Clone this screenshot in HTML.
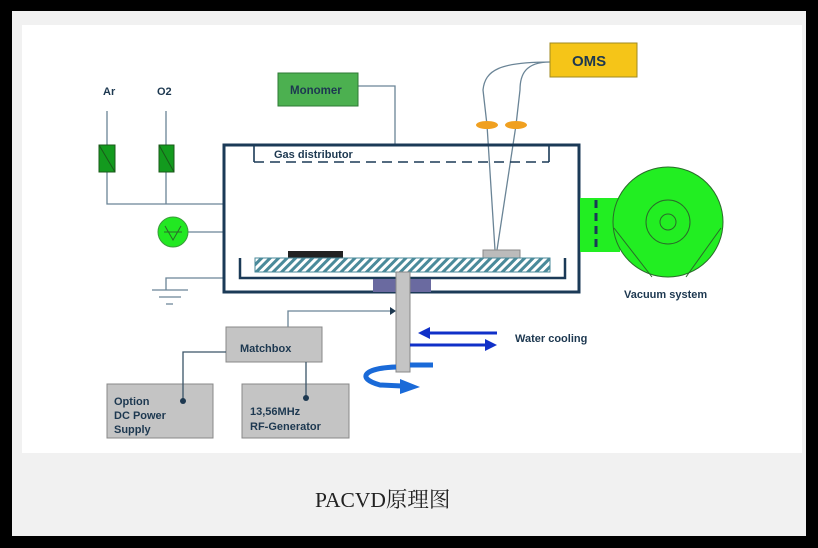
<!DOCTYPE html>
<html><head><meta charset="utf-8"><style>
html,body{margin:0;padding:0;background:#000;width:818px;height:548px;overflow:hidden}
#g{position:absolute;left:12px;top:11px;width:794px;height:525px;background:#f1f1f1}
#w{position:absolute;left:22px;top:25px;width:780px;height:428px;background:#fff}
#cap{position:absolute;left:315px;top:483px;font:21.5px "Liberation Serif","Noto Serif CJK SC",serif;color:#222}
svg{position:absolute;left:0;top:0}
text{font-family:"Liberation Sans",sans-serif;font-weight:bold;fill:#1d3850}
</style></head><body>
<div id="g"></div><div id="w"></div>
<div id="cap">PACVD原理图</div>
<svg width="818" height="548" viewBox="0 0 818 548">
<defs><pattern id="h" width="6" height="6" patternUnits="userSpaceOnUse" patternTransform="rotate(45)"><rect width="6" height="6" fill="#fff"/><rect width="3" height="6" fill="#4a8a9a"/></pattern></defs>
<g stroke="#6a8496" stroke-width="1.3" fill="none">
<path d="M107 111V204H224M166 111V204M188 232H224M358 86H395V145M224 278H166V290"/>
<path d="M152 290H188M159 297H181M166 304H173"/>
<path d="M550 62C500 62 485 70 483 90L487 125L495 250M550 62C525 62 520 75 520 90L516 125L497 250"/>
<path d="M288 327V311H390"/>
</g>
<polygon points="390,307 396,311 390,315" fill="#1d3850"/>
<text x="103" y="95" font-size="11">Ar</text><text x="157" y="95" font-size="11">O2</text>
<rect x="99" y="145" width="16" height="27" fill="#139a1e" stroke="#1a5a1a"/><line x1="99" y1="145" x2="115" y2="172" stroke="#1a5a1a"/>
<rect x="159" y="145" width="15" height="27" fill="#139a1e" stroke="#1a5a1a"/><line x1="159" y1="145" x2="174" y2="172" stroke="#1a5a1a"/>
<circle cx="173" cy="232" r="15" fill="#22e822" stroke="#3a9a3a"/><path d="M165 226L173 240L181 226M164 232H182" stroke="#2a6a2a" fill="none"/>
<rect x="278" y="73" width="80" height="33" fill="#4cb050" stroke="#2e7a34"/>
<text x="290" y="94" font-size="11.5">Monomer</text>
<rect x="224" y="145" width="355" height="147" fill="none" stroke="#1b3a57" stroke-width="3"/>
<path d="M254 145V162M549 162V145" stroke="#1b3a57" stroke-width="1.6" fill="none"/>
<line x1="254" y1="162" x2="549" y2="162" stroke="#1b3a57" stroke-width="1.6" stroke-dasharray="10,6"/>
<text x="274" y="158" font-size="11">Gas distributor</text>
<rect x="288" y="251" width="55" height="7" fill="#222"/>
<rect x="483" y="250" width="37" height="8" fill="#bbb" stroke="#888"/>
<rect x="255" y="258" width="295" height="14" fill="url(#h)" stroke="#4a8a9a"/>
<path d="M240 258V278H565V258" stroke="#1b3a57" stroke-width="2.5" fill="none"/>
<rect x="373" y="279" width="58" height="13" fill="#6a6aa0"/>
<rect x="396" y="272" width="14" height="100" fill="#c4c4c4" stroke="#888"/>
<rect x="550" y="43" width="87" height="34" fill="#f5c518" stroke="#a08a20"/>
<text x="572" y="66" font-size="15" font-weight="normal">OMS</text>
<ellipse cx="487" cy="125" rx="11" ry="4" fill="#f0a020"/><ellipse cx="516" cy="125" rx="11" ry="4" fill="#f0a020"/>
<rect x="580" y="198" width="40" height="54" fill="#22ee22"/>
<line x1="596" y1="200" x2="596" y2="250" stroke="#1b3a57" stroke-width="3" stroke-dasharray="8,5"/>
<circle cx="668" cy="222" r="55" fill="#22ee22" stroke="#2a6a2a"/>
<circle cx="668" cy="222" r="22" fill="none" stroke="#2a6a2a"/><circle cx="668" cy="222" r="8" fill="none" stroke="#2a6a2a"/>
<path d="M614 228L652 277M721 228L686 277" stroke="#2a6a2a" fill="none"/>
<text x="624" y="298" font-size="11">Vacuum system</text>
<rect x="226" y="327" width="96" height="35" fill="#c4c4c4" stroke="#888"/>
<text x="240" y="352" font-size="11">Matchbox</text>
<rect x="107" y="384" width="106" height="54" fill="#c4c4c4" stroke="#888"/>
<text font-size="11"><tspan x="114" y="405">Option</tspan><tspan x="114" y="419">DC Power</tspan><tspan x="114" y="433">Supply</tspan></text>
<rect x="242" y="384" width="107" height="54" fill="#c4c4c4" stroke="#888"/>
<text font-size="11"><tspan x="250" y="415">13,56MHz</tspan><tspan x="250" y="430">RF-Generator</tspan></text>
<path d="M226 352H183V401M306 362V398" stroke="#3a5468" stroke-width="1.3" fill="none"/>
<circle cx="183" cy="401" r="3" fill="#1d3850"/><circle cx="306" cy="398" r="3" fill="#1d3850"/>
<path d="M497 333H425" stroke="#1030c8" stroke-width="3"/><polygon points="418,333 430,327 430,339" fill="#1030c8"/>
<path d="M410 345H485" stroke="#1030c8" stroke-width="3"/><polygon points="497,345 485,339 485,351" fill="#1030c8"/>
<text x="515" y="342" font-size="11">Water cooling</text>
<path d="M433 365H410M396 367C365 368 355 378 380 385L402 386" stroke="#1a6ad8" stroke-width="5" fill="none"/>
<polygon points="400,379 420,387 400,394" fill="#1a6ad8"/>
</svg>
</body></html>
